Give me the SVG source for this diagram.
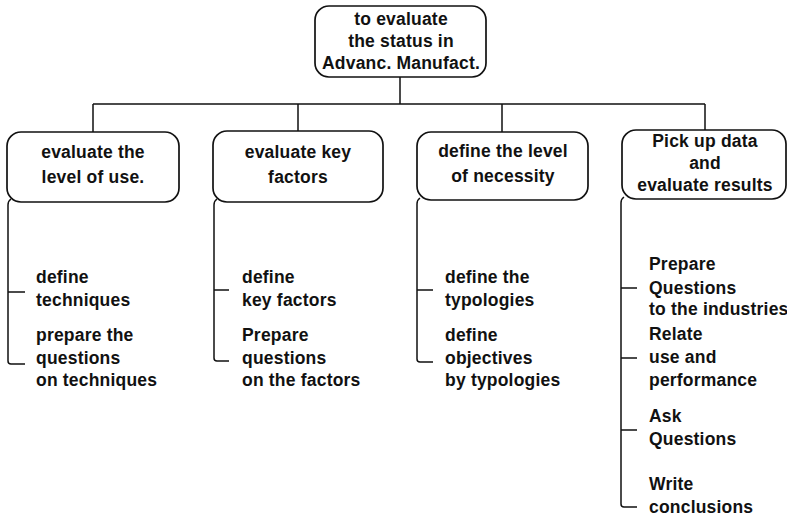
<svg xmlns="http://www.w3.org/2000/svg" width="787" height="518" viewBox="0 0 787 518">
<style>
text{font-family:"Liberation Sans",Arial,Helvetica,sans-serif;font-weight:bold;font-size:17.5px;letter-spacing:0.2px;fill:#111}
.c{text-anchor:middle}
.box{fill:#fff;stroke:#111;stroke-width:1.7}
.ln{fill:none;stroke:#111;stroke-width:1.5}
</style>
<rect width="787" height="518" fill="#fff"/>
<g id="connectors">
<path class="ln" d="M400,77 V104 M93,104 H705 M93,104 V132 M298,104 V131 M502,104 V132 M705,104 V130"/>
<path class="ln" d="M11,199 Q8,201 8,205 V361 Q8,364 11,364 H25 M8,292 H25"/>
<path class="ln" d="M217,199 Q214,201 214,205 V358 Q214,361 217,361 H229 M214,290 H229"/>
<path class="ln" d="M420,198 Q417,200 417,204 V359 Q417,362 420,362 H433 M417,290 H433"/>
<path class="ln" d="M624,197 Q621,199 621,203 V504 Q621,507 624,507 H637 M621,288 H637 M621,358 H637 M621,430 H637"/>
</g>
<g id="root">
<rect class="box" x="315" y="6" width="171" height="71" rx="14"/>
<text class="c" x="401" y="25">to evaluate</text>
<text class="c" x="401" y="47">the status in</text>
<text class="c" x="401" y="69">Advanc. Manufact.</text>
</g>
<g id="n1">
<rect class="box" x="7" y="132" width="172" height="70" rx="14"/>
<text class="c" x="93" y="158">evaluate the</text>
<text class="c" x="93" y="183">level of use.</text>
</g>
<g id="n2">
<rect class="box" x="213" y="131" width="170" height="71" rx="14"/>
<text class="c" x="298" y="158">evaluate key</text>
<text class="c" x="298" y="183">factors</text>
</g>
<g id="n3">
<rect class="box" x="417" y="132" width="171" height="68" rx="14"/>
<text class="c" x="503" y="157">define the level</text>
<text class="c" x="503" y="182">of necessity</text>
</g>
<g id="n4">
<rect class="box" x="622" y="130" width="164" height="69" rx="14"/>
<text class="c" x="705" y="147">Pick up data</text>
<text class="c" x="705" y="169">and</text>
<text class="c" x="705" y="191">evaluate results</text>
</g>
<g id="l1a"><text x="36" y="283">define</text><text x="36" y="306">techniques</text></g>
<g id="l1b"><text x="36" y="341">prepare the</text><text x="36" y="364">questions</text><text x="36" y="386">on techniques</text></g>
<g id="l2a"><text x="242" y="283">define</text><text x="242" y="306">key factors</text></g>
<g id="l2b"><text x="242" y="341">Prepare</text><text x="242" y="364">questions</text><text x="242" y="386">on the factors</text></g>
<g id="l3a"><text x="445" y="283">define the</text><text x="445" y="306">typologies</text></g>
<g id="l3b"><text x="445" y="341">define</text><text x="445" y="364">objectives</text><text x="445" y="386">by typologies</text></g>
<g id="l4a"><text x="649" y="270">Prepare</text><text x="649" y="294">Questions</text><text x="649" y="315">to the industries</text></g>
<g id="l4b"><text x="649" y="340">Relate</text><text x="649" y="363">use and</text><text x="649" y="386">performance</text></g>
<g id="l4c"><text x="649" y="422">Ask</text><text x="649" y="445">Questions</text></g>
<g id="l4d"><text x="649" y="490">Write</text><text x="649" y="513">conclusions</text></g>
</svg>
